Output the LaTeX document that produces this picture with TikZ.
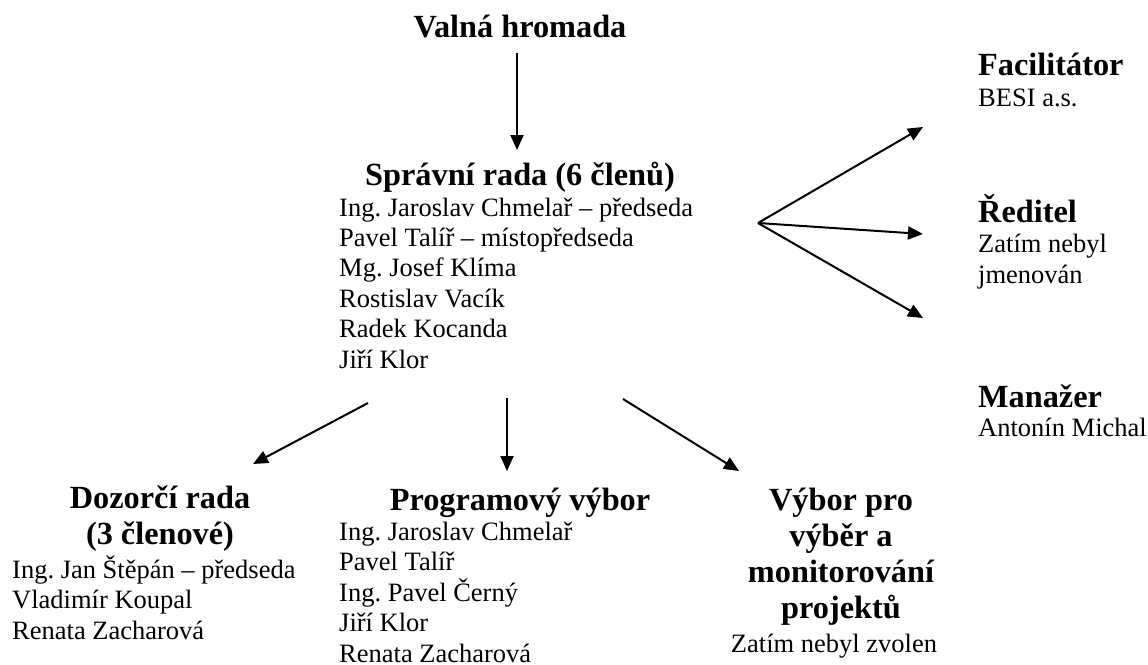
\documentclass[tikz,border=0pt]{standalone}
\usepackage{fontspec}
\setmainfont{Liberation Serif}
\usetikzlibrary{arrows.meta}
\frenchspacing
\newcommand{\bodysize}{\fontsize{26.5}{30.4}\selectfont}
\newcommand{\titlesize}{\fontsize{32.3}{35.8}\selectfont\bfseries}
% multi-line nodes: the base anchor lies on the LAST line's baseline
\tikzset{
  ttl/.style={inner sep=0pt, font=\titlesize, anchor=base, align=center},
  lst/.style={inner sep=0pt, font=\bodysize, anchor=base west, align=left},
  arr/.style={line width=2pt, -{Triangle[length=15pt,width=13pt]}}
}
\begin{document}
\begin{tikzpicture}[x=1pt,y=-1pt]
\useasboundingbox (0,0) rectangle (1148,664);
% general assembly
\node[ttl] (vh) at (520,37) {Valná hromada};
% board
\node[ttl] (srT) at (520,185) {Správní rada (6 členů)};
\node[lst] (srL) at (339,368) {Ing. Jaroslav Chmelař – předseda\\Pavel Talíř – místopředseda\\Mg. Josef Klíma\\Rostislav Vacík\\Radek Kocanda\\Jiří Klor};
% right column
\node[ttl, anchor=base west] (facT) at (978,75) {Facilitátor};
\node[lst] (facL) at (978,106) {BESI a.s.};
\node[ttl, anchor=base west] (redT) at (978,222) {Ředitel};
\node[lst] (redL) at (978,283) {Zatím nebyl\\jmenován};
\node[ttl, anchor=base west] (manT) at (978,407) {Manažer};
\node[lst] (manL) at (978,436) {Antonín Michal};
% bottom row
\node[ttl] (dzT) at (160,544) {Dozorčí rada\\(3 členové)};
\node[lst] (dzL) at (12,639) {Ing. Jan Štěpán – předseda\\Vladimír Koupal\\Renata Zacharová};
\node[ttl] (pvT) at (520,510) {Programový výbor};
\node[lst] (pvL) at (339,662) {Ing. Jaroslav Chmelař\\Pavel Talíř\\Ing. Pavel Černý\\Jiří Klor\\Renata Zacharová};
\node[ttl] (vvT) at (841,618) {Výbor pro\\výběr a\\monitorování\\projektů};
\node[lst, anchor=base] (vvL) at (834,652) {Zatím nebyl zvolen};
% connector end points
\coordinate (a1s) at (517,53);   \coordinate (a1e) at (517,150);
\coordinate (fan) at (758,223);
\coordinate (f1) at (923,127);   \coordinate (f2) at (923,234);   \coordinate (f3) at (923,318);
\coordinate (b1s) at (368,403);  \coordinate (b1e) at (253,464);
\coordinate (b2s) at (507,398);  \coordinate (b2e) at (507,471);
\coordinate (b3s) at (623,399);  \coordinate (b3e) at (739,471);
% connectors
\draw[arr] (a1s) -- (a1e);
\draw[arr] (fan) -- (f1);
\draw[arr] (fan) -- (f2);
\draw[arr] (fan) -- (f3);
\draw[arr] (b1s) -- (b1e);
\draw[arr] (b2s) -- (b2e);
\draw[arr] (b3s) -- (b3e);
\end{tikzpicture}
\end{document}
